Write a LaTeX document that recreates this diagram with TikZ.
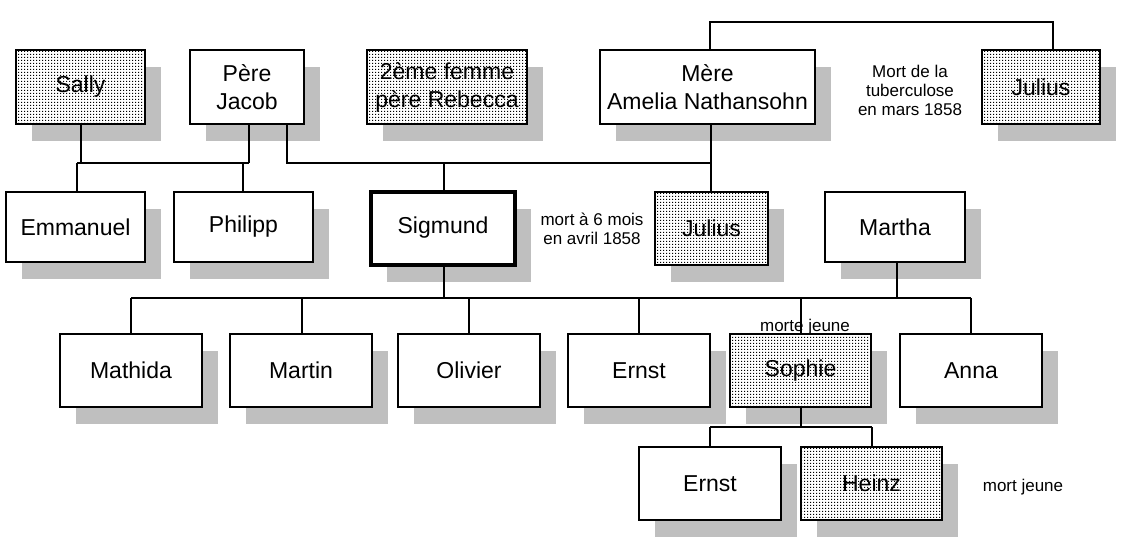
\documentclass[tikz,border=0pt]{standalone}
\usepackage{fontspec}
\setmainfont{Liberation Sans}
\usetikzlibrary{patterns}
\pgfdeclarepatternformonly{mydots}{\pgfpointorigin}{\pgfqpoint{3pt}{3pt}}{\pgfqpoint{3pt}{3pt}}{\pgfpathrectangle{\pgfpointorigin}{\pgfqpoint{1.6pt}{1.6pt}}\pgfusepath{fill}}
\begin{document}
\begin{tikzpicture}[x=1pt,y=-1pt,
  lbl/.style={font=\fontsize{17}{19}\selectfont,align=center,inner sep=0},
  ln/.style={line width=1.2pt}]
\useasboundingbox (0,0) rectangle (1147,544);
\newcommand\pbox[6]{% name, x1,y1,x2,y2, text
  \fill[gray!50] (#2+16,#3+17) rectangle (#4+16,#5+17);
  \draw[fill=white,line width=2pt] (#2,#3) rectangle (#4,#5);
  \node[font=\fontsize{23}{28}\selectfont,align=center] (#1) at ({(#2+#4)/2},{(#3+#5)/2}) {#6};}
\newcommand\dbox[6]{%
  \fill[gray!50] (#2+16,#3+17) rectangle (#4+16,#5+17);
  \fill[white] (#2,#3) rectangle (#4,#5);
  \fill[pattern=mydots,pattern color=black] (#2,#3) rectangle (#4,#5);
  \draw[line width=2pt] (#2,#3) rectangle (#4,#5);
  \node[font=\fontsize{23}{28}\selectfont,align=center] (#1) at ({(#2+#4)/2},{(#3+#5)/2}) {#6};}
% boxes
\dbox{sally}{16}{50}{145}{124}{Sally}
\pbox{jacob}{190}{50}{304}{124}{Père\\Jacob}
\dbox{rebecca}{367}{50}{527}{124}{2ème femme\\père Rebecca}
\pbox{amelia}{600}{50}{815}{124}{Mère\\Amelia Nathansohn}
\dbox{julius1}{982}{50}{1100}{124}{Julius}
\pbox{emmanuel}{6}{192}{145}{262}{Emmanuel}
\pbox{philipp}{174}{192}{313}{262}{Philipp}
\fill[gray!50] (387,209) rectangle (531,282);
\draw[fill=white,line width=4pt] (371,192) rectangle (515,265);
\node[font=\fontsize{23}{28}\selectfont] (sigmund) at (443,228) {Sigmund};
\dbox{julius2}{655}{192}{768}{265}{Julius}
\pbox{martha}{825}{192}{965}{262}{Martha}
\pbox{mathida}{60}{334}{202}{407}{Mathida}
\pbox{martin}{230}{334}{372}{407}{Martin}
\pbox{olivier}{398}{334}{540}{407}{Olivier}
\pbox{ernst1}{568}{334}{710}{407}{Ernst}
\dbox{sophie}{730}{334}{871}{407}{Sophie}
\pbox{anna}{900}{334}{1042}{407}{Anna}
\pbox{ernst2}{639}{447}{781}{520}{Ernst}
\dbox{heinz}{801}{447}{942}{520}{Heinz}
% connectors
\coordinate (j5) at (287,163); \coordinate (j6) at (711,163);
\draw[ln] (81,125) -- (81,163) (77,163) -- (249,163) (249,125) -- (249,163) (77,163) -- (77,191) (243,163) -- (243,191);
\draw[ln] (287,125) -- (j5) -- (j6) -- (711,125) (444,163) -- (444,190) (j6) -- (711,191);
\draw[ln] (710,49) -- (710,22) -- (1053,22) -- (1053,49);
\draw[ln] (444,267) -- (444,298) (897,263) -- (897,298) (131,298) -- (971,298);
\foreach \x in {131,302,469,639,801,971} \draw[ln] (\x,298) -- (\x,333);
\draw[ln] (801,408) -- (801,427) (710,427) -- (872,427) (710,427) -- (710,446) (872,427) -- (872,446);
\node[lbl] (t1) at (910,90) {Mort de la\\tuberculose\\en mars 1858};
\node[lbl] (t2) at (592,229) {mort à 6 mois\\en avril 1858};
\node[lbl] (t3) at (805,327) {morte jeune};
\node[lbl] (t4) at (1023,487) {mort jeune};
\end{tikzpicture}
\end{document}
